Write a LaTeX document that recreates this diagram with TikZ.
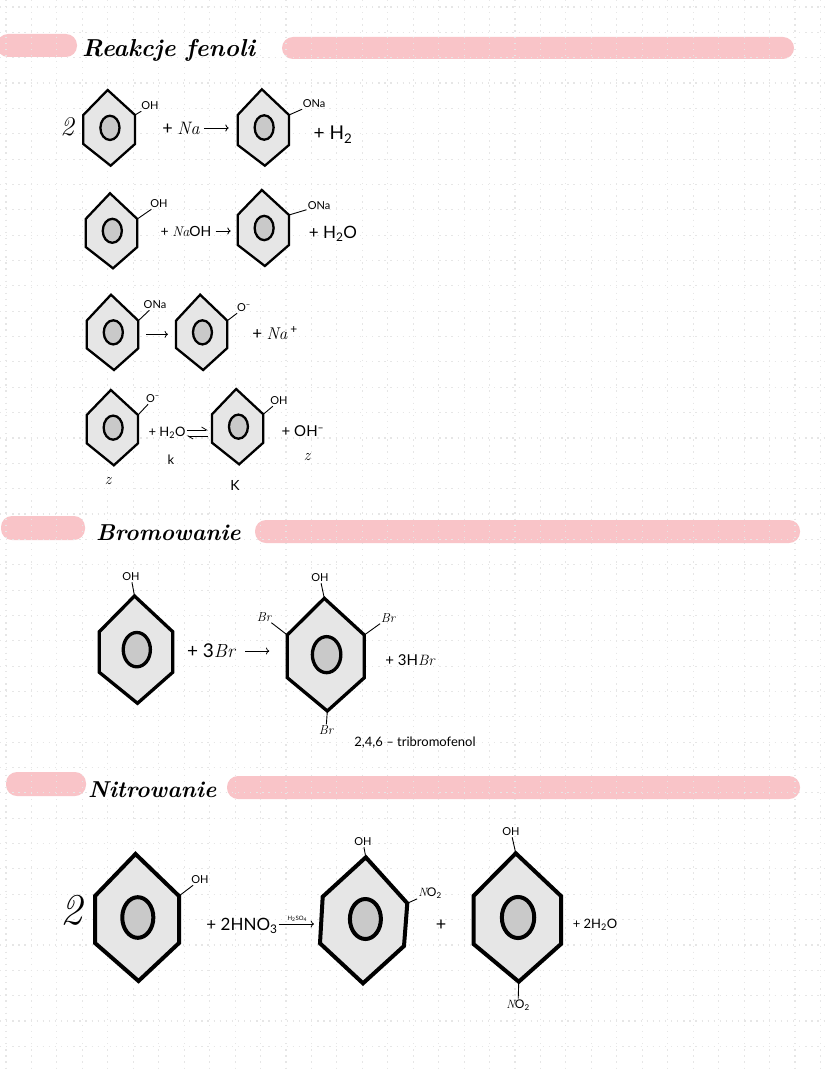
\documentclass[tikz,border=0pt]{standalone}
\usepackage{fontspec}
\setsansfont{Lato}
\usetikzlibrary{arrows.meta}

\definecolor{barpink}{HTML}{F9C4C8}
\definecolor{ringfill}{HTML}{E6E6E6}
\definecolor{corefill}{HTML}{C9C9C9}
\definecolor{griddot}{HTML}{E6E6E6}

\newcommand{\hw}[1]{{\rmfamily\itshape #1}}

% ring: style, name, left x, right x, top y, upper y, lower y, bottom y
\newcommand{\phenol}[8]{
        \pgfmathsetmacro{\midx}{(#3+#4)/2}
        \pgfmathsetmacro{\midy}{(#5+#8)/2}
        \pgfmathsetmacro{\corex}{(#4-#3)*0.185}
        \pgfmathsetmacro{\corey}{(#8-#5)*0.16}
        \coordinate (#2-n) at (\midx-1.5,#5);
        \coordinate (#2-ne) at (#4,#6);
        \coordinate (#2-e) at (#4,\midy);
        \coordinate (#2-se) at (#4,#7);
        \coordinate (#2-s) at (\midx+1.5,#8);
        \coordinate (#2-sw) at (#3,#7);
        \coordinate (#2-w) at (#3,\midy);
        \coordinate (#2-nw) at (#3,#6);
        \draw[#1, fill=ringfill] (#2-n) -- (#2-ne) -- (#2-se) -- (#2-s) -- (#2-sw) -- (#2-nw) -- cycle;
        \draw[#1, fill=corefill] (\midx+0.8,\midy) ellipse ({\corex} and {\corey});
}

\tikzset{
    thin ring/.style={line width=2.3pt},
    mid ring/.style={line width=3.3pt},
    fat ring/.style={line width=4pt},
    bar/.style={fill=barpink, rounded corners=11pt},
    title/.style={inner sep=0pt, font=\rmfamily\bfseries\itshape\fontsize{23}{25}\selectfont},
    tiny/.style={inner sep=1pt, font=\sffamily\fontsize{6}{7}\selectfont},
    sub/.style={inner sep=1pt, font=\sffamily\fontsize{11}{12}\selectfont},
    brom/.style={inner sep=1pt, font=\rmfamily\itshape\fontsize{13}{14}\selectfont},
    mol/.style={inner sep=1pt, font=\sffamily\fontsize{14}{16}\selectfont},
    big/.style={inner sep=1pt, font=\sffamily\fontsize{19}{21}\selectfont},
    bond/.style={line width=0.9pt, shorten <=1pt},
    arr/.style={line width=0.8pt, ->},
    harp/.style={line width=0.8pt, -{Straight Barb[left,length=5pt,width=6pt]}},
}

\begin{document}
\begin{tikzpicture}[x=1pt,y=-1pt]
    \useasboundingbox (0,0) rectangle (828,1070);
    \fill[white] (0,0) rectangle (828,1070);

    % section bars
    \draw[bar, draw=none] (-3,34) rectangle (77,57);
    \draw[bar, draw=none] (282,37) rectangle (794,59);
    \draw[bar, draw=none] (1,516) rectangle (85,540);
    \draw[bar, draw=none] (255,520) rectangle (800,543);
    \draw[bar, draw=none] (6,772) rectangle (86,796);
    \draw[bar, draw=none] (227,776) rectangle (800,799);

    % dotted paper
    \foreach \k in {0,...,32}
        \draw[griddot, line width=1.1pt, dash pattern=on 1.3pt off 4.8pt] (6+25.45*\k,0) -- (6+25.45*\k,1070);
    \foreach \k in {0,...,41}
        \draw[griddot, line width=1.1pt, dash pattern=on 1.3pt off 4.8pt] (0,7+25.35*\k) -- (828,7+25.35*\k);

    % titles
    \node[title, anchor=west, font=\rmfamily\bfseries\itshape\fontsize{24.5}{26}\selectfont] (t1) at (82,50) {Reakcje fenoli};
    \node[title, anchor=west] (t2) at (96,533) {Bromowanie};
    \node[title, anchor=west] (t3) at (88,790) {Nitrowanie};

    % first reaction
    \node[big, font=\rmfamily\itshape\fontsize{27}{29}\selectfont] (n2a) at (67,127) {2};
    \phenol{thin ring}{r1}{83.3}{135}{90}{115}{144}{165.7}
    \phenol{thin ring}{r2}{237.7}{289}{89.3}{115}{145}{165.7}
    \node[sub] (oh1) at (150,106) {OH};
    \draw[bond] (r1-ne) -- (oh1);
    \node[mol, font=\sffamily\fontsize{18}{20}\selectfont] (na1) at (181,128) {+ \hw{Na}};
    \draw[arr, shorten <=3pt, shorten >=9pt] (na1.east) -- (na1.east -| r2-w);
    \node[sub] (ona1) at (314,104) {ONa};
    \draw[bond] (r2-ne) -- (ona1);
    \node[big] (h2a) at (333,135) {+ H\textsubscript{2}};

    % second reaction
    \phenol{thin ring}{r3}{85.7}{137.3}{193.3}{219}{247}{268.3}
    \phenol{thin ring}{r4}{237.7}{289}{190}{215}{245}{266}
    \node[sub] (oh2) at (159,204) {OH};
    \draw[bond] (r3-ne) -- (oh2);
    \node[mol] (naoh) at (186,231) {+ \hw{Na}OH};
    \draw[arr, shorten <=3pt, shorten >=7pt] (naoh.east) -- (naoh.east -| r4-w);
    \node[sub] (ona2) at (319,206) {ONa};
    \draw[bond] (r4-ne) -- (ona2);
    \node[big, font=\sffamily\fontsize{17}{19}\selectfont] (h2o2) at (333,234) {+ H\textsubscript{2}O};

    % third reaction
    \phenol{thin ring}{r5}{86.7}{138.3}{294.7}{320.7}{348.3}{370}
    \phenol{thin ring}{r6}{176}{227.3}{294.7}{320.7}{348}{370}
    \node[sub] (ona3) at (155,305) {ONa};
    \draw[bond] (r5-ne) -- (ona3);
    \draw[arr, shorten <=8pt, shorten >=8pt] ([yshift=-2pt]r5-e) -- ([yshift=-2pt]r5-e -| r6-w);
    \node[sub] (oa1) at (244,308) {O\textsuperscript{--}};
    \draw[bond] (r6-ne) -- (oa1);
    \node[mol, font=\sffamily\fontsize{17}{19}\selectfont] (nap) at (275,333) {+ \hw{Na}\,\textsuperscript{+}};

    % fourth reaction
    \phenol{thin ring}{r7}{86.7}{138}{390}{415}{443.3}{465.3}
    \phenol{thin ring}{r8}{212}{263.3}{389}{414.3}{442.7}{464.3}
    \node[sub] (oa2) at (153,399) {O\textsuperscript{--}};
    \draw[bond] (r7-ne) -- (oa2);
    \node[mol, font=\sffamily\fontsize{13}{15}\selectfont] (h2o4) at (167,433) {+ H\textsubscript{2}O};
    \draw[harp, shorten >=4pt] ([yshift=3pt]h2o4.east) -- ([yshift=3pt]h2o4.east -| r8-w);
    \draw[harp] ([yshift=-3pt]h2o4.east -| r8-w) ++(-4,0) -- ([yshift=-3pt]h2o4.east);
    \node[sub] (oh4) at (279,401) {OH};
    \draw[bond] (r8-ne) -- (oh4);
    \node[big, font=\sffamily\fontsize{15}{17}\selectfont] (ohm) at (303,431) {+ OH\textsuperscript{--}};
    \node[sub, font=\sffamily\fontsize{13}{14}\selectfont] (k1) at (171,460) {k};
    \node[brom, font=\rmfamily\itshape\fontsize{16}{17}\selectfont] (z1) at (307,457) {z};
    \node[brom, font=\rmfamily\itshape\fontsize{16}{17}\selectfont] (z2) at (108,481) {z};
    \node[mol] (k2) at (235,485) {K};

    % bromination
    \phenol{mid ring}{r9}{99.3}{172.7}{596}{631.7}{672.3}{703.3}
    \phenol{mid ring}{r10}{287.3}{364.3}{598.3}{635}{677.7}{711}
    \node[sub] (oh5) at (131,577) {OH};
    \draw[bond] (r9-n) -- (oh5);
    \node[mol, font=\sffamily\fontsize{19}{21}\selectfont] (br3) at (211,651) {+ 3\hw{Br}};
    \draw[arr, shorten <=9pt, shorten >=18pt] (br3.east) -- (br3.east -| r10-w);
    \node[sub] (oh6) at (320,578) {OH};
    \draw[bond] (r10-n) -- (oh6);
    \node[brom] (brl) at (264,617) {Br};
    \draw[bond] (r10-nw) -- (brl);
    \node[brom] (brr) at (388,618) {Br};
    \draw[bond] (r10-ne) -- (brr);
    \node[brom] (brb) at (326,730) {Br};
    \draw[bond] (r10-s) -- (brb);
    \node[mol, font=\sffamily\fontsize{15}{17}\selectfont] (hbr) at (410,660) {+ 3H\hw{Br}};
    \node[sub, font=\sffamily\fontsize{13}{14}\selectfont] (tbf) at (415,743) {2,4,6 -- tribromofenol};

    % nitration
    \node[big, font=\rmfamily\itshape\fontsize{44}{46}\selectfont] (n2b) at (71,910) {2};
    \phenol{fat ring}{r11}{95}{179}{854}{896}{943}{981}
    \node[sub] (oh7) at (200,880) {OH};
    \draw[bond] (r11-ne) -- (oh7);
    \node[mol, font=\sffamily\fontsize{17}{19}\selectfont] (hno) at (242,926) {+ 2HNO\textsubscript{3}};
    \coordinate (r12-n) at (365.8,857.3);
    \coordinate (r12-ne) at (407.3,903.3);
    \coordinate (r12-se) at (404,946);
    \coordinate (r12-s) at (363,983.3);
    \coordinate (r12-sw) at (320,943.3);
    \coordinate (r12-nw) at (322.7,896.7);
    \draw[fat ring, fill=ringfill] (r12-n) -- (r12-ne) -- (r12-se) -- (r12-s) -- (r12-sw) -- (r12-nw) -- cycle;
    \draw[fat ring, fill=corefill] (365.4,919) ellipse (15.5 and 20);
    \draw[arr, shorten >=6pt] ([yshift=2pt]hno.east) -- ([yshift=2pt]hno.east -| r12-sw) node[tiny, pos=0.45, above, yshift=1pt] (cat) {H\textsubscript{2}SO\textsubscript{4}};
    \node[sub] (oh8) at (363,842) {OH};
    \draw[bond] (r12-n) -- (oh8);
    \node[sub, font=\sffamily\fontsize{12}{13}\selectfont] (no2a) at (430,893) {\hw{N}O\textsubscript{2}};
    \draw[bond] (r12-ne) -- (no2a);
    \node[mol, font=\sffamily\fontsize{18}{20}\selectfont] (plus) at (441,925) {+};
    \phenol{fat ring}{r13}{473.5}{561}{853.3}{896}{944}{981.7}
    \node[sub] (oh9) at (511,832) {OH};
    \draw[bond] (r13-n) -- (oh9);
    \node[sub, font=\sffamily\fontsize{12}{13}\selectfont] (no2b) at (518,1005) {\hw{N}O\textsubscript{2}};
    \draw[bond] (r13-s) -- (no2b);
    \node[mol, font=\sffamily\fontsize{13}{15}\selectfont] (h2o5) at (595,925) {+ 2H\textsubscript{2}O};
\end{tikzpicture}
\end{document}
